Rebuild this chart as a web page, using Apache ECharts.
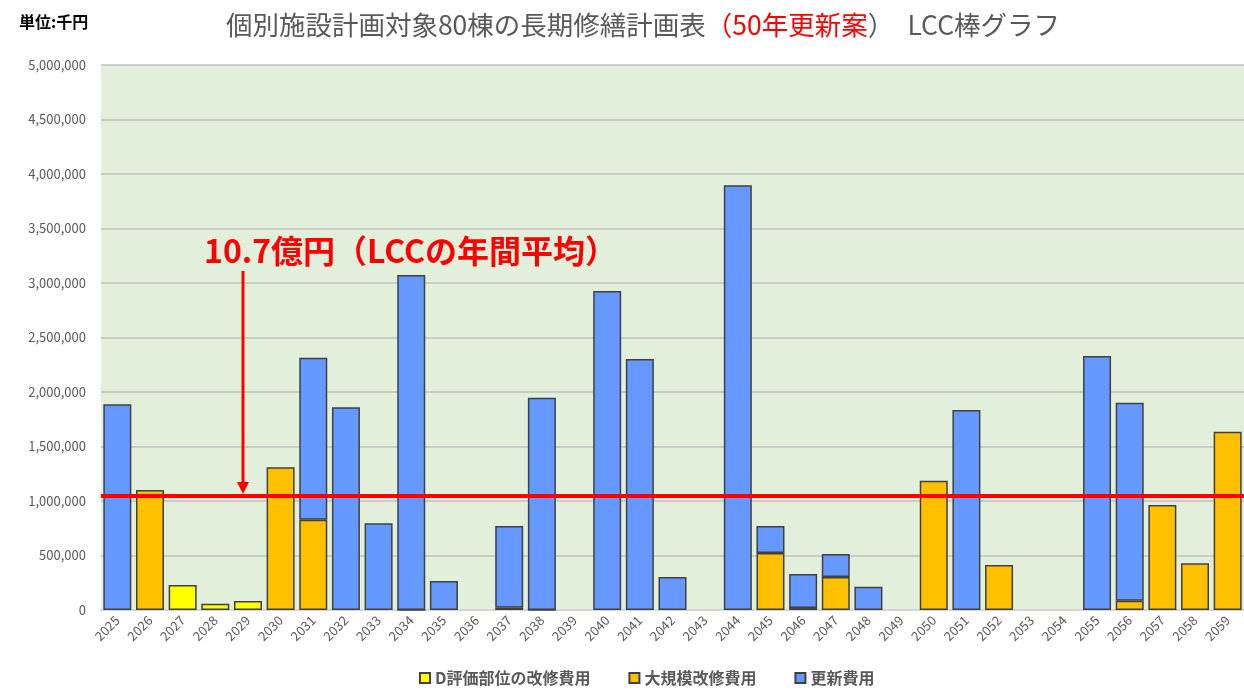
<!DOCTYPE html>
<html style="height: 100%">
<head>
    <meta charset="utf-8">
</head>
<body style="height: 100%; margin: 0; background: #fff">
    <div id="container" style="width: 1244px; height: 692px"></div>
    <script type="text/javascript" src="https://cdn.jsdelivr.net/npm/echarts@6/dist/echarts.min.js"></script>
    <script type="text/javascript">
        // 年度
        var years = ['2025', '2026', '2027', '2028', '2029', '2030', '2031', '2032', '2033', '2034',
            '2035', '2036', '2037', '2038', '2039', '2040', '2041', '2042', '2043', '2044',
            '2045', '2046', '2047', '2048', '2049', '2050', '2051', '2052', '2053', '2054',
            '2055', '2056', '2057', '2058', '2059'];
        // D評価部位の改修費用 (千円)
        var dEvalCost = [null, null, 229000, 58000, 83000, null, null, null, null, null,
            null, null, null, null, null, null, null, null, null, null,
            null, null, null, null, null, null, null, null, null, null,
            null, null, null, null, null];
        // 大規模改修費用
        var largeCost = [null, 1101000, null, null, null, 1309000, 828000, null, null, 0,
            null, null, 21000, 0, null, null, null, null, null, null,
            523000, 18000, 303000, null, null, 1186000, null, 413000, null, null,
            null, 85000, 963000, 428000, 1636000];
        // 更新費用
        var renewCost = [1887000, null, null, null, null, null, 1487000, 1860000, 795000, 3073000,
            266000, null, 750000, 1948000, null, 2926000, 2303000, 303000, null, 3896000,
            248000, 312000, 211000, 214000, null, null, 1835000, null, null, null,
            2330000, 1817000, null, null, null];
        // LCCの年間平均
        var lccAverage = 1050000;

        var grey = '#595959';
        var font = '"Noto Sans CJK JP", "Noto Sans", sans-serif';
        var border = { borderColor: '#404040', borderWidth: 1.5 };

        var dom = document.getElementById("container");
        var myChart = echarts.init(dom);

        option = {
            backgroundColor: '#ffffff',
            textStyle: { fontFamily: font },
            title: [{
                text: '{g|個別施設計画対象80棟の長期修繕計画表}{r|（50年更新案}{g|）　LCC棒グラフ}',
                left: 638,
                textAlign: 'center',
                top: 7,
                textStyle: {
                    fontWeight: 'normal',
                    rich: {
                        g: { fontSize: 26.5, color: grey, fontFamily: font, fontWeight: 'normal' },
                        r: { fontSize: 26.5, color: '#ff0000', fontFamily: font, fontWeight: 'normal' }
                    }
                }
            }, {
                text: '単位:千円',
                left: 14,
                top: 9,
                textStyle: { fontSize: 16, fontWeight: 'bold', color: '#000', fontFamily: font }
            }],
            legend: {
                bottom: 1,
                left: 414,
                icon: 'rect',
                itemWidth: 10,
                itemHeight: 10,
                itemGap: 38,
                textStyle: { fontSize: 16, fontWeight: 'bold', color: grey },
                data: ['D評価部位の改修費用', '大規模改修費用', '更新費用']
            },
            grid: {
                left: 101,
                right: -7,
                top: 65,
                bottom: 82,
                show: true,
                backgroundColor: '#e2efda',
                borderWidth: 0
            },
            xAxis: {
                type: 'category',
                data: years,
                axisLine: { lineStyle: { color: '#d9d9d9', width: 1.5 } },
                axisTick: { show: false },
                axisLabel: { rotate: 45, fontSize: 13, color: grey, margin: 8, interval: 0 }
            },
            yAxis: {
                type: 'value',
                min: 0,
                max: 5000000,
                interval: 500000,
                axisLine: { show: false },
                axisTick: { show: false },
                splitLine: { lineStyle: { color: '#bfbfbf', width: 1.5 } },
                axisLabel: {
                    fontSize: 13,
                    color: grey,
                    margin: 15,
                    formatter: function (v) { return v.toLocaleString('en-US'); }
                }
            },
            series: [
                {
                    name: 'D評価部位の改修費用',
                    type: 'bar',
                    stack: 'lcc',
                    barWidth: 28,
                    itemStyle: Object.assign({ color: '#ffff00' }, border),
                    data: dEvalCost
                },
                {
                    name: '大規模改修費用',
                    type: 'bar',
                    stack: 'lcc',
                    barWidth: 28,
                    itemStyle: Object.assign({ color: '#ffc000' }, border),
                    data: largeCost
                },
                {
                    name: '更新費用',
                    type: 'bar',
                    stack: 'lcc',
                    barWidth: 28,
                    itemStyle: Object.assign({ color: '#6699ff' }, border),
                    data: renewCost,
                    markLine: {
                        silent: true,
                        symbol: ['none', 'none'],
                        label: { show: false },
                        lineStyle: { color: '#ff0000', width: 4, type: 'solid' },
                        data: [{ yAxis: lccAverage }]
                    }
                }
            ],
            graphic: [
                {
                    type: 'text',
                    left: 204,
                    top: 235,
                    z: 100,
                    style: {
                        text: '10.7億円（LCCの年間平均）',
                        fill: '#ff0000',
                        font: 'bold 32px ' + font
                    }
                },
                {
                    type: 'line',
                    z: 100,
                    shape: { x1: 243, y1: 271, x2: 243, y2: 484 },
                    style: { stroke: '#ff0000', lineWidth: 3 }
                },
                {
                    type: 'polygon',
                    z: 100,
                    shape: { points: [[237, 482], [249, 482], [243, 494]] },
                    style: { fill: '#ff0000' }
                }
            ]
        };

        if (option && typeof option === "object") {
            myChart.setOption(option, true);
        }
    </script>
</body>
</html>
